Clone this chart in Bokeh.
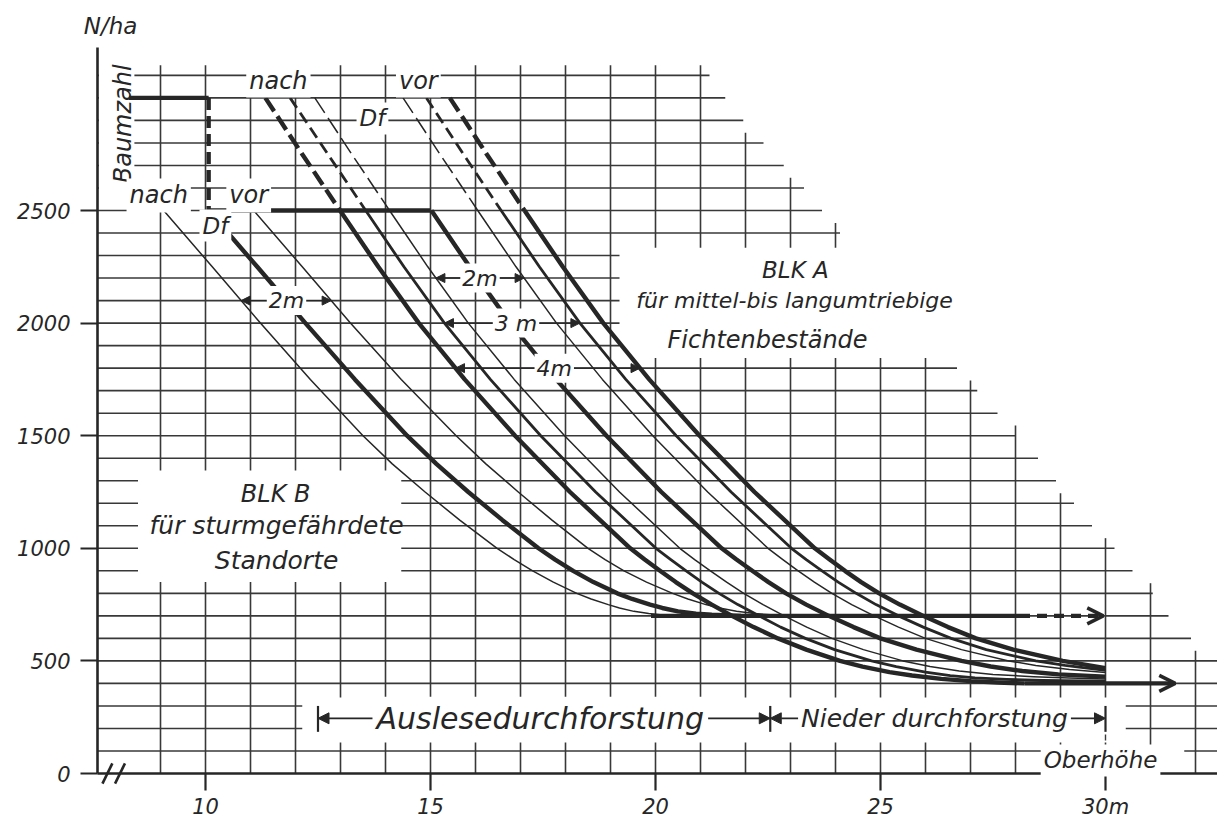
import numpy as np
from bokeh.plotting import figure
from bokeh.models import (Range1d, FixedTicker, Label, Arrow, NormalHead, OpenHead,
                          BoxAnnotation)
from bokeh.embed import file_html
from bokeh.resources import INLINE

# ---------------- data ----------------
# grid rows (N/ha) and the Oberhöhe (m) at which each row ends (staircase outline)
grid_rows = list(range(100, 3200, 100))
row_ends = [40, 40, 40, 40, 40, 31.9, 31.4, 31.05, 30.6, 30.2, 29.7, 29.3, 28.9, 28.5,
            28.0, 27.6, 27.15, 26.7, 19.2, 19.2, 19.2, 19.2, 19.2, 24.1, 23.7, 23.3,
            22.85, 22.4, 21.95, 21.55, 21.2]
grid_cols = list(range(9, 33))

x_ticks = [10, 15, 20, 25, 30]
x_tick_labels = ["10", "15", "20", "25", "30m"]
y_ticks = [0, 500, 1000, 1500, 2000, 2500]
y_tick_labels = ["0", "500", "1000", "1500", "2000", "2500"]
axis_origin_x = 7.6
break_marks_x = [7.82, 8.1]

# stepped guide line (Baumzahl 3000 -> 2500)
guide_x = [8.3, 10.07, 10.07, 15.0]
guide_y = [3000, 3000, 2500, 2500]

# BLK A curves (x = Oberhöhe m, y = N/ha)
a1_x = [11.33, 12.15, 12.99, 13.84, 14.74, 15.76, 16.88, 18.1, 19.44, 19.76, 20.1, 20.45,
        20.83, 21.25, 21.7, 22.18, 22.72, 23.35, 24.1, 24.6, 25.2, 25.7, 26.35, 27.0,
        27.6, 28.2]
a1_y = [3000, 2750, 2500, 2250, 2000, 1750, 1500, 1250, 1000, 950, 900, 850, 800, 750,
        700, 650, 600, 550, 500, 475, 450, 435, 420, 410, 404, 400]
a2_x = [11.88, 12.72, 13.56, 14.41, 15.31, 16.33, 17.45, 18.67, 20.01, 20.34, 20.68,
        21.03, 21.41, 21.83, 22.3, 22.78, 23.33, 23.98, 24.8, 25.35, 26.0, 26.55, 27.1,
        27.8, 28.6, 30.0]
a2_y = [3000, 2750, 2500, 2250, 2000, 1750, 1500, 1250, 1000, 950, 900, 850, 800, 750,
        700, 650, 600, 550, 500, 475, 450, 435, 425, 418, 413, 410]
a3_x = [12.43, 13.25, 14.09, 14.94, 15.84, 16.86, 17.98, 19.2, 20.54, 20.87, 21.22, 21.58,
        21.96, 22.39, 22.86, 23.36, 23.92, 24.62, 25.5, 26.1, 26.75, 27.5, 28.4, 29.2, 30.0]
a3_y = [3000, 2750, 2500, 2250, 2000, 1750, 1500, 1250, 1000, 950, 900, 850, 800, 750,
        700, 650, 600, 550, 500, 475, 455, 440, 430, 424, 420]
a_df_x = [15.02, 15.87, 16.77, 17.79, 18.91, 20.13, 21.47, 21.8, 22.15, 22.51, 22.9,
          23.35, 23.85, 24.4, 25.0, 25.8, 26.8, 27.45, 28.15, 28.95, 30.0]
a_df_y = [2500, 2250, 2000, 1750, 1500, 1250, 1000, 950, 900, 850, 800, 750, 700, 650,
          600, 550, 500, 475, 455, 440, 430]
a4_x = [14.39, 15.21, 16.05, 16.9, 17.8, 18.82, 19.94, 21.16, 22.5, 22.83, 23.17, 23.53,
        23.92, 24.36, 24.86, 25.4, 26.0, 26.8, 27.85, 28.45, 29.2, 30.0]
a4_y = [3000, 2750, 2500, 2250, 2000, 1750, 1500, 1250, 1000, 950, 900, 850, 800, 750,
        700, 650, 600, 550, 500, 480, 462, 448]
a5_x = [14.91, 15.73, 16.57, 17.42, 18.32, 19.34, 20.46, 21.68, 23.02, 23.35, 23.7, 24.06,
        24.46, 24.9, 25.4, 25.95, 26.57, 27.35, 28.45, 29.1, 30.0]
a5_y = [3000, 2750, 2500, 2250, 2000, 1750, 1500, 1250, 1000, 950, 900, 850, 800, 750,
        700, 650, 600, 550, 500, 480, 458]
a6_x = [15.43, 16.25, 17.09, 17.94, 18.84, 19.86, 20.98, 22.2, 23.54, 23.87, 24.21, 24.57,
        24.97, 25.43, 25.95, 26.5, 27.12, 27.95, 29.05, 30.0]
a6_y = [3000, 2750, 2500, 2250, 2000, 1750, 1500, 1250, 1000, 950, 900, 850, 800, 750,
        700, 650, 600, 550, 500, 468]

# BLK B curves
b_y = [2500, 2250, 2000, 1750, 1500, 1375, 1250, 1125, 1000, 950, 900, 850, 800, 775,
       750, 735, 720, 710, 705, 700]
b1_x = [9.07, 10.15, 11.22, 12.33, 13.5, 14.15, 14.88, 15.65, 16.48, 16.86, 17.27, 17.73,
        18.25, 18.57, 18.95, 19.2, 19.52, 19.85, 20.1, 20.6]
b_df_x = [10.07, 11.15, 12.22, 13.32, 14.48, 15.13, 15.84, 16.6, 17.4, 17.77, 18.17,
          18.62, 19.15, 19.48, 19.88, 20.15, 20.5, 20.9, 21.25, 21.9]
b3_x = [11.07, 12.15, 13.22, 14.35, 15.57, 16.23, 16.95, 17.7, 18.5, 18.88, 19.3, 19.8,
        20.38, 20.72, 21.12, 21.42, 21.8, 22.2, 22.55, 23.2]

# final stem numbers
b_final_n = 700
b_final_x = [19.9, 28.1, 29.95]
a_final_n = 400
a_final_x = [28.2, 31.55]

# thinning phases along the Oberhöhe
phase_bounds = [12.5, 22.55, 30.0]
phase_names = ["Auslesedurchforstung", "Nieder durchforstung"]

# ---------------- figure ----------------
INK = "#262626"
GRID = "#383838"
FONT = "DejaVu Sans"
W, H = 1217, 823
X0, X1 = 10 - 205 / 45, 10 + (W - 205) / 45
Y0, Y1 = (773 - H) / 0.2252, 773 / 0.2252

p = figure(width=W, height=H, x_range=Range1d(X0, X1), y_range=Range1d(Y0, Y1),
           output_backend="svg", toolbar_location=None, min_border=0)
p.min_border_left = 0
p.min_border_right = 0
p.min_border_top = 0
p.min_border_bottom = 0
p.xgrid.visible = False
p.ygrid.visible = False
p.outline_line_color = None
p.background_fill_color = "white"
p.border_fill_color = "white"

for ax, ticks, labels in ((p.xaxis[0], x_ticks, x_tick_labels),
                          (p.yaxis[0], y_ticks, y_tick_labels)):
    ax.ticker = FixedTicker(ticks=ticks)
    ax.major_label_overrides = {t: l for t, l in zip(ticks, labels)}
    ax.minor_tick_line_color = None
    ax.major_tick_in = 0
    ax.major_tick_out = 17
    ax.axis_line_width = 2.6
    ax.axis_line_color = INK
    ax.major_tick_line_width = 2.2
    ax.major_tick_line_color = INK
    ax.major_label_text_font = FONT
    ax.major_label_text_font_style = "italic"
    ax.major_label_text_font_size = "21px"
    ax.major_label_text_color = INK
p.xaxis[0].fixed_location = 0
p.xaxis[0].bounds = (axis_origin_x, X1)
p.xaxis[0].major_label_standoff = 4
p.yaxis[0].fixed_location = axis_origin_x
p.yaxis[0].bounds = (0, 3225)
p.yaxis[0].major_label_standoff = 10

# ---------------- grid (staircase) ----------------
hx0, hx1, hy = [], [], []
for r, e in zip(grid_rows, row_ends):
    hx0.append(axis_origin_x)
    hx1.append(min(e, X1))
    hy.append(r)
g1 = p.segment(x0=hx0, y0=hy, x1=hx1, y1=hy, line_color=GRID, line_width=1.6)
g1.level = "image"

vx, vy0, vy1 = [], [], []
for c in grid_cols:
    cov = [r for r, e in zip(grid_rows, row_ends) if e >= c - 0.02]
    runs = []
    for r in cov:
        if runs and r - runs[-1][-1] == 100:
            runs[-1].append(r)
        else:
            runs.append([r])
    for run in runs:
        lo = 0 if run[0] == grid_rows[0] else run[0] - 65
        hi = run[-1] + 45
        vx.append(c)
        vy0.append(lo)
        vy1.append(hi)
g2 = p.segment(x0=vx, y0=vy0, x1=vx, y1=vy1, line_color=GRID, line_width=1.6)
g2.level = "image"

# white areas where the drawing leaves the grid open (text fields)
for l, r, b, t in ((7.63, 8.42, 2590, 3170),     # Baumzahl
                   (8.5, 14.35, 850, 1345),      # BLK B
                   (12.15, 30.45, 138, 337),     # Durchforstung band
                   (28.7, 31.75, 8, 125)):       # Oberhöhe
    p.add_layout(BoxAnnotation(left=l, right=r, bottom=b, top=t, fill_color="white",
                               fill_alpha=1.0, line_color=None, level="underlay"))

# axis break marks
bm = np.asarray(break_marks_x)
p.segment(x0=bm - 0.11, y0=[-45] * len(bm), x1=bm + 0.11, y1=[45] * len(bm),
          line_color=INK, line_width=2.6)

# ---------------- curves ----------------
THICK, MED, THIN = 4.4, 2.8, 1.5


def curve(xs, ys, w, dash_from=None, dash="12 6"):
    xs = np.asarray(xs, float)
    ys = np.asarray(ys, float)
    if dash_from is None:
        p.line(xs, ys, line_color=INK, line_width=w, line_join="round")
        return
    up = ys >= dash_from
    lo = ys <= dash_from
    p.line(xs[up], ys[up], line_color=INK, line_width=w, line_dash=dash)
    p.line(xs[lo], ys[lo], line_color=INK, line_width=w, line_join="round")


# step guide
gx = np.asarray(guide_x)
gy = np.asarray(guide_y)
p.line(gx[0:2], gy[0:2], line_color=INK, line_width=THICK)
p.line(gx[1:3], gy[1:3], line_color=INK, line_width=THICK, line_dash="12 6")
p.line(gx[2:4], gy[2:4], line_color=INK, line_width=THICK)

curve(a1_x, a1_y, THICK, 2500, "16 6")
curve(a2_x, a2_y, MED, 2500, "12 6")
curve(a3_x, a3_y, THIN, 2500, "18 6")
curve(a_df_x, a_df_y, THICK)
curve(a4_x, a4_y, THIN, 2500, "18 6")
curve(a5_x, a5_y, MED, 2500, "12 6")
curve(a6_x, a6_y, THICK, 2500, "16 6")

curve(b1_x, b_y, THIN)
curve(b_df_x, b_y, THICK)
curve(b3_x, b_y, THIN)

p.line(b_final_x[0:2], [b_final_n] * 2, line_color=INK, line_width=THICK)
p.add_layout(Arrow(x_start=b_final_x[1], y_start=b_final_n, x_end=b_final_x[2],
                   y_end=b_final_n, line_color=INK, line_width=THICK, line_dash="10 7",
                   end=OpenHead(size=16, line_width=3.5, line_color=INK)))
p.add_layout(Arrow(x_start=a_final_x[0], y_start=a_final_n, x_end=a_final_x[1],
                   y_end=a_final_n, line_color=INK, line_width=THICK,
                   end=OpenHead(size=16, line_width=3.5, line_color=INK)))

# ---------------- dimension arrows (Df intervals) ----------------


def x_at(xs, ys, yv):
    return float(np.interp(yv, np.asarray(ys, float)[::-1], np.asarray(xs, float)[::-1]))


dims = [("2m", 2100, (b1_x, b_y), (b3_x, b_y), 11.8),
        ("2m", 2200, (a3_x, a3_y), (a4_x, a4_y), 16.1),
        ("3 m", 2000, (a2_x, a2_y), (a5_x, a5_y), 16.9),
        ("4m", 1800, (a1_x, a1_y), (a6_x, a6_y), 17.75)]
for txt, yv, left, right, lx in dims:
    xa_ = x_at(left[0], left[1], yv)
    xb_ = x_at(right[0], right[1], yv)
    p.add_layout(Arrow(x_start=xa_, y_start=yv, x_end=xb_, y_end=yv, line_color=INK,
                       line_width=1.4,
                       start=NormalHead(size=9, fill_color=INK, line_color=INK),
                       end=NormalHead(size=9, fill_color=INK, line_color=INK)))

# thinning phases
phase_y = 245
p.segment(x0=phase_bounds, y0=[185] * 3, x1=phase_bounds, y1=[300] * 3,
          line_color=INK, line_width=2.2)
p.segment(x0=[phase_bounds[-1]], y0=[0], x1=[phase_bounds[-1]], y1=[185],
          line_color=GRID, line_width=1.4, line_dash="6 5")
for i in range(2):
    p.add_layout(Arrow(x_start=phase_bounds[i], y_start=phase_y, x_end=phase_bounds[i + 1],
                       y_end=phase_y, line_color=INK, line_width=1.6,
                       start=NormalHead(size=11, fill_color=INK, line_color=INK),
                       end=NormalHead(size=11, fill_color=INK, line_color=INK)))

# ---------------- texts ----------------


def label(txt, x, y, size, bg=True, angle=0, pad=3):
    kw = dict(x=x, y=y, text=txt, text_font=FONT, text_font_style="italic",
              text_font_size=size, text_color=INK, text_align="center",
              text_baseline="middle", angle=angle, angle_units="deg")
    if bg:
        kw.update(background_fill_color="white", background_fill_alpha=1.0, padding=pad)
    p.add_layout(Label(**kw))


label("N/ha", 7.89, 3321, "23px", bg=False)
label("Baumzahl", 8.16, 2885, "24px", bg=False, angle=90)
label("nach", 11.62, 3077, "24px")
label("vor", 14.73, 3077, "24px")
label("Df", 13.71, 2909, "23px")
label("nach", 8.96, 2567, "24px")
label("vor", 10.96, 2567, "24px")
label("Df", 10.22, 2433, "23px")
for txt, yv, left, right, lx in dims:
    label(txt, lx, yv, "22px", pad=2)

label("BLK A", 23.11, 2234, "23px", bg=False)
label("für mittel-bis langumtriebige", 23.09, 2100, "22px", bg=False)
label("Fichtenbestände", 22.49, 1923, "24px", bg=False)
label("BLK B", 11.56, 1243, "24px", bg=False)
label("für sturmgefährdete", 11.58, 1101, "25px", bg=False)
label("Standorte", 11.58, 946, "25px", bg=False)

label(phase_names[0], 17.44, phase_y, "30px", pad=4)
label(phase_names[1], 26.2, phase_y, "25px", pad=3)
label("Oberhöhe", 29.89, 58, "23px")

html = file_html(p, INLINE, "BLK Fichte")
open("out.html", "w").write(html)
